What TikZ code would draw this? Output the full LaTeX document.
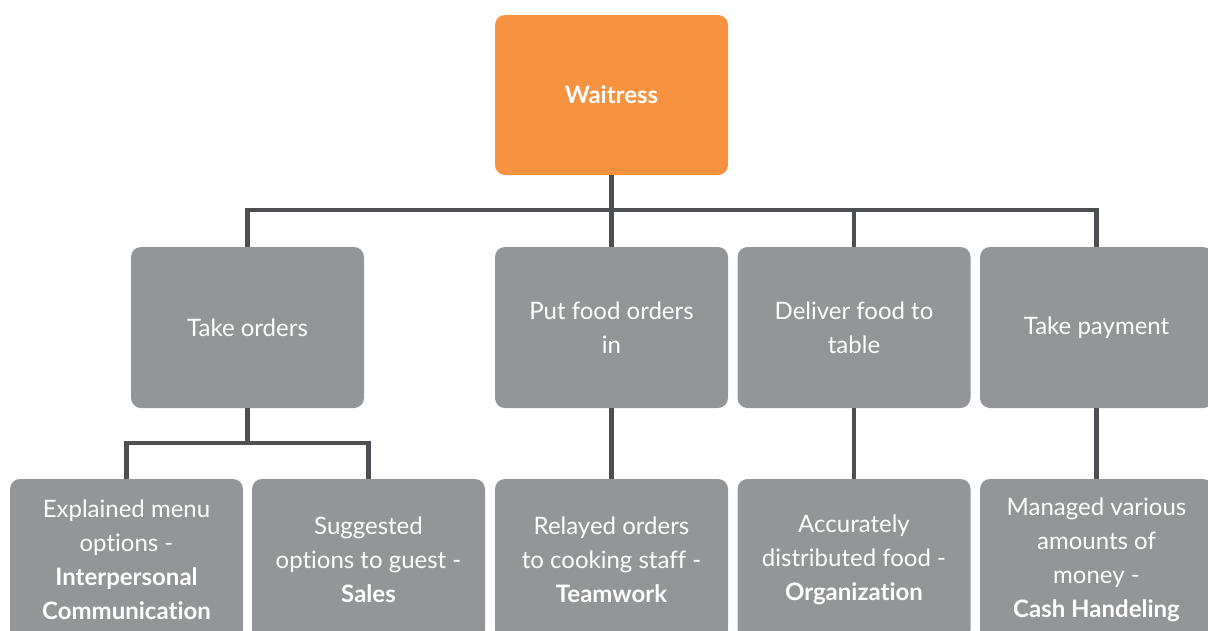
\documentclass[tikz,border=0pt]{standalone}
\usepackage{fontspec}
\setmainfont{Lato}[Ligatures=NoCommon]
\definecolor{orangebox}{HTML}{F79240}
\definecolor{graybox}{HTML}{939598}
\definecolor{linecol}{HTML}{4D4F53}
\begin{document}
\begin{tikzpicture}[x=1pt,y=-1pt,
  box/.style={rectangle, rounded corners=10pt, minimum width=233pt, minimum height=161pt,
    fill=graybox, text=white, align=center, inner sep=0pt, font=\fontsize{24}{34}\selectfont},
  topbox/.style={box, fill=orangebox, minimum height=160pt},
  conn/.style={draw=linecol, line width=4.5pt}]
\useasboundingbox (0,0) rectangle (1208,630);
\clip (0,0) rectangle (1208,630);
\node[topbox] (w) at (611.5,95) {\textbf{Waitress}};
\node[box] (a) at (247.5,327.5) {Take orders};
\node[box] (b) at (611.5,327.5) {Put food orders\\in};
\node[box] (c) at (854,327.5) {Deliver food to\\table};
\node[box] (d) at (1096.5,327.5) {Take payment};
\node[box] (a1) at (126.5,559.5) {Explained menu\\options -\\\textbf{Interpersonal}\\\textbf{Communication}};
\node[box] (a2) at (368.5,559.5) {Suggested\\options to guest -\\\textbf{Sales}};
\node[box] (b1) at (611.5,559.5) {Relayed orders\\to cooking staff -\\\textbf{Teamwork}};
\node[box] (c1) at (854,559.5) {Accurately\\distributed food -\\\textbf{Organization}};
\node[box] (d1) at (1096.5,559.5) {Managed various\\amounts of\\money -\\\textbf{Cash Handeling}};
\coordinate (bus) at (611.5,210);
\coordinate (sub) at (247.5,443);
\draw[conn] (w.south) -- (bus);
\draw[conn] (a.north) |- (bus) -| (d.north);
\draw[conn] (b.north) -- (bus);
\draw[conn] (c.north) -- (c.north |- bus);
\draw[conn] (a.south) -- (sub);
\draw[conn] (a1.north) |- (sub) -| (a2.north);
\draw[conn] (b.south) -- (b1.north);
\draw[conn] (c.south) -- (c1.north);
\draw[conn] (d.south) -- (d1.north);
\end{tikzpicture}
\end{document}
